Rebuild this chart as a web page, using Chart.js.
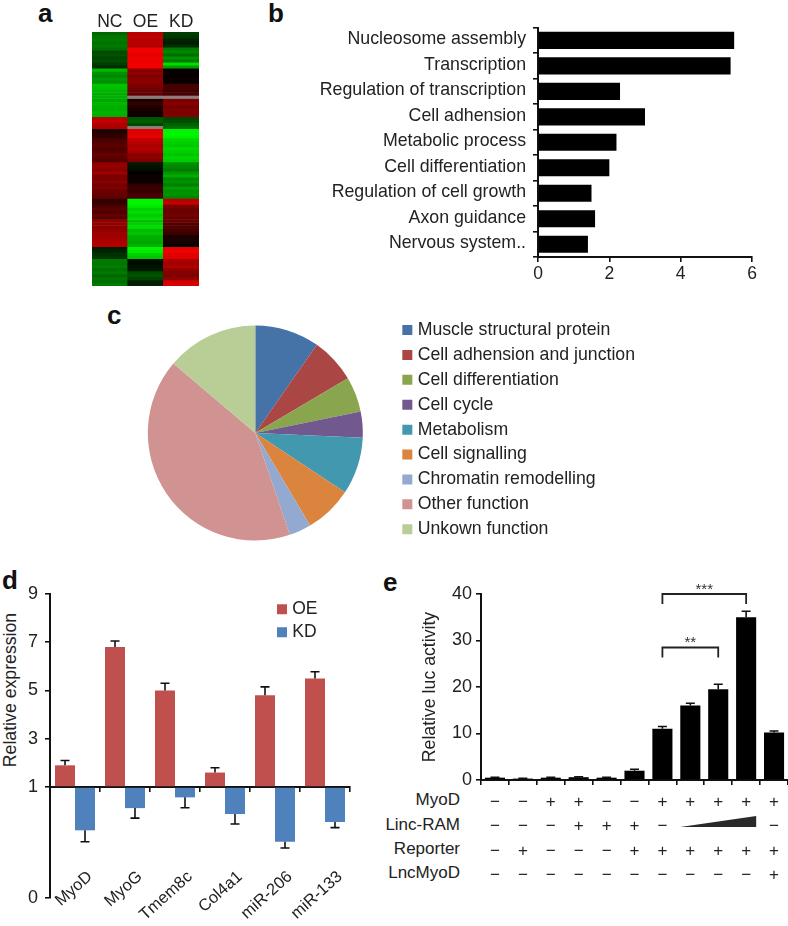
<!DOCTYPE html>
<html>
<head>
<meta charset="utf-8">
<script src="https://cdn.jsdelivr.net/npm/chart.js@4/dist/chart.umd.js"></script>
<style>
  html, body { margin: 0; padding: 0; background: #fff; }
  #page { position: relative; width: 788px; height: 926px; overflow: hidden; font-family: 'Liberation Sans', sans-serif; color: #222; }
  canvas { position: absolute; }
  .letter { position: absolute; font-weight: bold; font-size: 26px; line-height: 26px; color: #111; }
  .label { position: absolute; font-size: 17px; line-height: 20px; white-space: nowrap; }
</style>
</head>
<body>
<div id="page">
  <div class="letter" style="left:38px;top:0px">a</div>
  <div class="letter" style="left:268px;top:0px">b</div>
  <div class="letter" style="left:107px;top:302px">c</div>
  <div class="letter" style="left:2px;top:567px">d</div>
  <div class="letter" style="left:383px;top:569px">e</div>

  <div class="label" style="left:10px;top:690px;font-size:17.7px;transform:translate(-50%,-50%) rotate(-90deg)">Relative expression</div>
  <div class="label" style="right:328px;top:790px">MyoD</div>
  <div class="label" style="right:328px;top:815px">Linc-RAM</div>
  <div class="label" style="right:328px;top:839px">Reporter</div>
  <div class="label" style="right:328px;top:863px">LncMyoD</div>

  <canvas id="heat" width="107" height="276" style="left:92px;top:10px"></canvas>
  <canvas id="terms" width="460" height="285" style="left:310px;top:10px"></canvas>
  <canvas id="pie" width="533" height="238" style="left:112px;top:314px"></canvas>
  <canvas id="expr" width="370" height="350" style="left:0;top:576px"></canvas>
  <canvas id="luc" width="388" height="320" style="left:400px;top:575px"></canvas>
</div>
<script>
const FONT = "'Liberation Sans', sans-serif";
const INK = '#222';

// a: heatmap, top row first, log ratio -1 (green) .. 1 (red), null = no call
const heatColumns = ['NC', 'OE', 'KD'];
const heatNC = [-.42,-.48,-.5,-.46,-.5,-.45,-.3,-.34,-.28,-.32,-.25,-.18,-.75,-.6,-.55,-.62,-.58,-.8,-.78,-.74,-.7,-.72,-.68,-.75,-.72,-.7,-.74,-.72,.75,.78,.72,.7,.12,.16,.2,.3,.34,.38,.32,.36,.42,.38,.34,.6,.62,.55,.65,.5,.5,.58,.46,.52,.44,.42,.4,.2,.22,.32,.38,.3,.42,.36,.58,.62,.55,.6,.65,.64,.68,.72,.74,-.12,-.15,-.2,-.22,-.5,-.48,-.52,-.45,-.5,-.42,-.48,-.45,-.5];
const heatOE = [.75,.78,.74,.76,.72,1,.98,.92,1,.95,1,.98,.55,.6,.52,.56,.58,.5,.48,.42,.4,null,.12,.2,.15,.1,.08,.06,-.35,-.38,-.3,null,.92,.9,.95,.78,.75,.7,.72,.68,.55,.58,.5,-.1,-.08,-.04,.02,.05,.06,.04,.2,.25,.22,.28,.3,-1,-1,-.95,-.85,-.9,-.82,-.88,-.78,-.85,-.9,-.75,-.8,-.72,-.7,-.68,-.72,-1,-.95,-.85,-.8,-.06,-.05,-.08,-.1,-.3,-.34,-.28,-.12,-.14];
const heatKD = [-.25,-.22,-.15,-.12,-.18,-.5,-.55,-.45,-.6,-.5,-.9,-.65,.04,.03,.02,.05,.03,.28,.3,.25,.3,null,.5,.55,.48,.52,.5,.54,-.28,-.32,-.4,-.45,-1,-1,-.98,-.88,-.85,-.82,-.88,-.84,-.8,-.86,-.83,-.58,-.55,-.5,-.62,-.7,-.55,-.6,-.52,-.65,-.58,-.6,-.55,.75,.8,.5,.45,.42,.48,.4,.44,.3,.34,.28,.25,.1,.12,.08,-.03,.95,.98,.92,.9,.7,.65,.72,.6,.55,.52,.6,.85,.88];

// b: GO terms
const termLabels = ['Nucleosome assembly', 'Transcription', 'Regulation of transcription', 'Cell adhension', 'Metabolic process', 'Cell differentiation', 'Regulation of cell growth', 'Axon guidance', 'Nervous system..'];
const termValues = [5.5, 5.4, 2.3, 3, 2.2, 2, 1.5, 1.6, 1.4];

// c: function shares
const pieLabels = ['Muscle structural protein', 'Cell adhension and junction', 'Cell differentiation', 'Cell cycle', 'Metabolism', 'Cell signalling', 'Chromatin remodelling', 'Other function', 'Unkown function'];
const pieValues = [9.7, 6.8, 5.3, 3.9, 8.6, 7.2, 3.3, 41.4, 13.8];
const pieColors = ['#4572a7', '#aa4643', '#89a54e', '#71588f', '#4198af', '#db843d', '#93a9cf', '#d19392', '#b9cd96'];

// d: relative expression
const exprGenes = ['MyoD', 'MyoG', 'Tmem8c', 'Col4a1', 'miR-206', 'miR-133'];
const exprOE = [1.9, 6.8, 5, 1.6, 4.8, 5.5];
const exprOEErrTo = [2.1, 7.05, 5.3, 1.8, 5.15, 5.78];
const exprKD = [0.61, 0.81, 0.907, 0.757, 0.507, 0.685];
const exprKDErrTo = [0.507, 0.72, 0.814, 0.667, 0.45, 0.634];
const exprTicks = [0, 1, 3, 5, 7, 9];

// e: luciferase
const lucValues = [0.5, 0.3, 0.5, 0.6, 0.5, 2, 11, 16, 19.5, 35, 10.2];
const lucErrTo = [0.6, 0.35, 0.6, 0.7, 0.6, 2.3, 11.5, 16.5, 20.6, 36.3, 10.55];
const rowMyoD = ['−', '−', '+', '+', '−', '−', '+', '+', '+', '+', '+'];
const rowLincRam = ['−', '−', '−', '+', '+', '+', '−', '', '', '', '−'];
const rowReporter = ['−', '+', '−', '−', '−', '+', '+', '+', '+', '+', '+'];
const rowLncMyoD = ['−', '−', '−', '−', '−', '−', '−', '−', '−', '−', '+'];
const brackets = [
  { from: 6, to: 9, value: 40, text: '***' },
  { from: 6, to: 8, value: 28.5, text: '**' }
];

Chart.defaults.font.family = FONT;
Chart.defaults.color = INK;
Chart.defaults.animation = false;
Chart.defaults.responsive = false;
Chart.defaults.events = [];
Chart.defaults.plugins.tooltip.enabled = false;
Chart.defaults.plugins.legend.display = false;

function heatColor(v) {
  if (v === null) return '#8c7c7c';
  const level = Math.round(Math.abs(v) * 245);
  return v > 0 ? `rgb(${level},0,0)` : `rgb(0,${level},0)`;
}

// axis stretched below 1 so that fold decreases read as well as increases
class BrokenLinearScale extends Chart.LinearScale {
  getPixelForValue(v) {
    const breakAt = 0.365;
    const dec = v < 1 ? v * breakAt : breakAt + (v - 1) / 8 * (1 - breakAt);
    return this.getPixelForDecimal(dec);
  }
}
BrokenLinearScale.id = 'brokenLinear';
BrokenLinearScale.defaults = Chart.LinearScale.defaults;
Chart.register(BrokenLinearScale);

const errorBars = {
  id: 'errorBars',
  afterDatasetsDraw(chart) {
    const ctx = chart.ctx;
    ctx.save();
    ctx.strokeStyle = '#111';
    ctx.lineWidth = 1.6;
    chart.data.datasets.forEach((ds, i) => {
      chart.getDatasetMeta(i).data.forEach((bar, j) => {
        const y = chart.scales.y.getPixelForValue(ds.errTo[j]);
        ctx.beginPath();
        ctx.moveTo(bar.x, bar.y);
        ctx.lineTo(bar.x, y);
        ctx.moveTo(bar.x - 4.5, y);
        ctx.lineTo(bar.x + 4.5, y);
        ctx.stroke();
      });
    });
    ctx.restore();
  }
};

const lucExtras = {
  id: 'lucExtras',
  afterDatasetsDraw(chart) {
    const ctx = chart.ctx;
    const bars = chart.getDatasetMeta(0).data;
    ctx.save();
    ctx.strokeStyle = '#222';
    ctx.fillStyle = '#333';
    ctx.lineWidth = 1.8;
    ctx.textAlign = 'center';
    ctx.font = '15px ' + FONT;
    brackets.forEach(b => {
      const y = chart.scales.y.getPixelForValue(b.value);
      const x0 = bars[b.from].x, x1 = bars[b.to].x;
      ctx.beginPath();
      ctx.moveTo(x0, y + 10);
      ctx.lineTo(x0, y);
      ctx.lineTo(x1, y);
      ctx.lineTo(x1, y + 10);
      ctx.stroke();
      ctx.fillText(b.text, (x0 + x1) / 2, y);
    });
    // Linc-RAM dose wedge under bars 7..9
    const left = bars[7].x - bars[7].width / 2;
    const right = bars[9].x + bars[9].width / 2;
    const base = chart.scales.y.bottom + 47;
    ctx.fillStyle = '#2a2a2a';
    ctx.beginPath();
    ctx.moveTo(left, base);
    ctx.lineTo(right, base - 11);
    ctx.lineTo(right, base);
    ctx.closePath();
    ctx.fill();
    ctx.restore();
  }
};

// legend of d sits inside the plot, top right
const placeExprLegend = {
  id: 'placeExprLegend',
  afterLayout(chart) {
    chart.legend.left = chart.scales.x.getPixelForValue(4);
    chart.legend.top = chart.scales.y.getPixelForValue(9) + 1;
  }
};

const axisLine = { color: '#111', width: 2 };
const tickLines = { drawOnChartArea: false, color: '#111', lineWidth: 1.6, tickLength: 5 };

new Chart(document.getElementById('heat'), {
  type: 'bar',
  data: {
    labels: heatColumns,
    datasets: heatNC.map((_, row) => ({
      data: [1, 1, 1],
      backgroundColor: [heatColor(heatNC[row]), heatColor(heatOE[row]), heatColor(heatKD[row])]
    }))
  },
  options: {
    layout: { padding: 0 },
    datasets: { bar: { barPercentage: 1, categoryPercentage: 1, borderWidth: 0 } },
    scales: {
      x: {
        stacked: true, position: 'top',
        grid: { display: false, drawTicks: false }, border: { display: false },
        ticks: { font: { size: 17.5 }, padding: -1 },
        afterFit(s) { s.height = 22; }
      },
      y: { stacked: true, display: false, reverse: true, min: 0, max: heatNC.length }
    }
  }
});

new Chart(document.getElementById('terms'), {
  type: 'bar',
  data: { labels: termLabels, datasets: [{ data: termValues, backgroundColor: '#000', barPercentage: 0.67, categoryPercentage: 1 }] },
  options: {
    indexAxis: 'y',
    layout: { padding: { top: 14, right: 18 } },
    scales: {
      x: {
        min: 0, max: 6, position: 'bottom',
        ticks: { stepSize: 2, font: { size: 17.5 }, padding: 2 },
        grid: tickLines, border: axisLine,
        afterFit(s) { s.height = 38; }
      },
      y: {
        ticks: { font: { size: 17.75 }, padding: 7, labelOffset: -1 },
        grid: { ...tickLines, offset: true }, border: axisLine,
        afterFit(s) { s.width = 228; }
      }
    }
  }
});

new Chart(document.getElementById('pie'), {
  type: 'pie',
  data: { labels: pieLabels, datasets: [{ data: pieValues, backgroundColor: pieColors, borderWidth: 0, radius: 107.5 }] },
  options: {
    layout: { padding: 0 },
    plugins: {
      legend: {
        display: true, position: 'right', align: 'start',
        labels: { usePointStyle: true, pointStyle: 'rect', boxWidth: 3, boxHeight: 10, padding: 7.2, font: { size: 17.7 }, color: INK }
      }
    }
  }
});

new Chart(document.getElementById('expr'), {
  type: 'bar',
  data: {
    labels: exprGenes,
    datasets: [
      { label: 'OE', data: exprOE, errTo: exprOEErrTo, base: 1, backgroundColor: '#c0504d' },
      { label: 'KD', data: exprKD, errTo: exprKDErrTo, base: 1, backgroundColor: '#4f81bd' }
    ]
  },
  options: {
    layout: { padding: { top: 18, right: 20, bottom: 28 } },
    datasets: { bar: { barPercentage: 1, categoryPercentage: 0.8 } },
    plugins: {
      legend: {
        display: true, position: 'chartArea', align: 'start',
        labels: { usePointStyle: true, pointStyle: 'rect', boxWidth: 3, boxHeight: 10, padding: 5.5, font: { size: 17.5 }, color: INK }
      }
    },
    scales: {
      x: {
        position: { y: 1 },
        ticks: { autoSkip: false, minRotation: 42, maxRotation: 42, padding: 76, labelOffset: 15, font: { size: 16.5 } },
        grid: { ...tickLines, offset: true, tickLength: 4 }, border: axisLine,
        // the long rotated labels must not squeeze the plot
        afterFit(s) { s.paddingLeft = 0; s.paddingRight = 0; }
      },
      y: {
        type: 'brokenLinear', min: 0, max: 9,
        afterBuildTicks(s) { s.ticks = exprTicks.map(v => ({ value: v })); },
        ticks: { font: { size: 18 }, padding: 7 },
        grid: tickLines, border: axisLine,
        afterFit(s) { s.width = 50; }
      }
    }
  },
  plugins: [errorBars, placeExprLegend]
});

new Chart(document.getElementById('luc'), {
  type: 'bar',
  data: { labels: lucValues.map((_, i) => String(i)), datasets: [{ data: lucValues, errTo: lucErrTo, backgroundColor: '#000', barPercentage: 0.72, categoryPercentage: 1 }] },
  options: {
    layout: { padding: { top: 19 } },
    scales: {
      x: {
        grid: { ...tickLines, offset: true }, border: axisLine,
        ticks: {
          autoSkip: false, maxRotation: 0, padding: 5,
          font: { size: 17, lineHeight: '24.4px' },
          callback: (v, i) => [rowMyoD[i], rowLincRam[i], rowReporter[i], rowLncMyoD[i]]
        },
        afterFit(s) { s.height = 115; }
      },
      y: {
        min: 0, max: 40,
        ticks: { stepSize: 10, font: { size: 18 }, padding: 4 },
        grid: tickLines, border: axisLine,
        title: { display: true, text: 'Relative luc activity', font: { size: 17.7 }, padding: { top: 19, bottom: 0 } },
        afterFit(s) { s.width = 81; }
      }
    }
  },
  plugins: [errorBars, lucExtras]
});
</script>
</body>
</html>
